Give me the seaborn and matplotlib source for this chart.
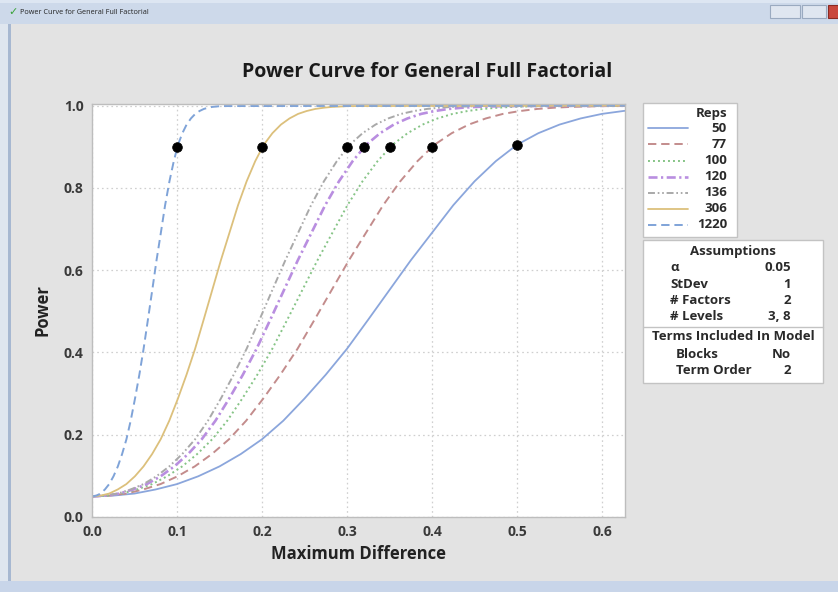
import matplotlib
matplotlib.use("Agg")
import matplotlib.pyplot as plt
import seaborn as sns
import pandas as pd
from matplotlib.patches import Rectangle
from matplotlib.lines import Line2D

# ---------------- data ----------------
reps = ["50", "77", "100", "120", "136", "306", "1220"]

# power levels at which each curve's Maximum Difference was read
power_levels = [0.050, 0.052, 0.057, 0.067, 0.080, 0.099, 0.123, 0.153, 0.189, 0.234,
                0.288, 0.346, 0.409, 0.480, 0.552, 0.624, 0.691, 0.758, 0.816, 0.865,
                0.905, 0.933, 0.954, 0.969, 0.980, 0.987, 0.992, 0.995, 0.997, 0.998,
                0.999, 1.000]

delta_50 = [0.0, 0.025, 0.05, 0.075, 0.1, 0.125, 0.15, 0.175, 0.2, 0.225, 0.25, 0.275,
            0.3, 0.325, 0.35, 0.375, 0.4, 0.425, 0.45, 0.475, 0.5, 0.525, 0.55, 0.575,
            0.6, 0.625, 0.65, 0.675, 0.7, 0.725, 0.75, 0.775]
delta_77 = [0.0, 0.0201, 0.0403, 0.0604, 0.0806, 0.1007, 0.1209, 0.1410, 0.1612, 0.1813,
            0.2015, 0.2216, 0.2418, 0.2619, 0.2820, 0.3022, 0.3223, 0.3425, 0.3626, 0.3828,
            0.4029, 0.4231, 0.4432, 0.4634, 0.4835, 0.5037, 0.5238, 0.5439, 0.5641, 0.5842,
            0.6044, 0.65]
delta_100 = [0.0, 0.0177, 0.0354, 0.0530, 0.0707, 0.0884, 0.1061, 0.1237, 0.1414, 0.1591,
             0.1768, 0.1945, 0.2121, 0.2298, 0.2475, 0.2652, 0.2828, 0.3005, 0.3182, 0.3359,
             0.3536, 0.3712, 0.3889, 0.4066, 0.4243, 0.4419, 0.4596, 0.4773, 0.4950, 0.5127,
             0.5303, 0.65]
delta_120 = [0.0, 0.0161, 0.0323, 0.0484, 0.0645, 0.0807, 0.0968, 0.1130, 0.1291, 0.1452,
             0.1614, 0.1775, 0.1936, 0.2098, 0.2259, 0.2421, 0.2582, 0.2743, 0.2905, 0.3066,
             0.3227, 0.3389, 0.3550, 0.3712, 0.3873, 0.4034, 0.4196, 0.4357, 0.4518, 0.4680,
             0.4841, 0.65]
delta_136 = [0.0, 0.0152, 0.0303, 0.0455, 0.0606, 0.0758, 0.0909, 0.1061, 0.1213, 0.1364,
             0.1516, 0.1667, 0.1819, 0.1971, 0.2122, 0.2274, 0.2425, 0.2577, 0.2728, 0.2880,
             0.3032, 0.3183, 0.3335, 0.3486, 0.3638, 0.3790, 0.3941, 0.4093, 0.4244, 0.4396,
             0.4547, 0.65]
delta_306 = [0.0, 0.0101, 0.0202, 0.0303, 0.0404, 0.0505, 0.0606, 0.0707, 0.0808, 0.0909,
             0.1011, 0.1112, 0.1213, 0.1314, 0.1415, 0.1516, 0.1617, 0.1718, 0.1819, 0.1920,
             0.2021, 0.2122, 0.2223, 0.2324, 0.2425, 0.2526, 0.2627, 0.2728, 0.2829, 0.2930,
             0.3032, 0.65]
delta_1220 = [0.0, 0.0051, 0.0101, 0.0152, 0.0202, 0.0253, 0.0304, 0.0354, 0.0405, 0.0455,
              0.0506, 0.0557, 0.0607, 0.0658, 0.0709, 0.0759, 0.0810, 0.0860, 0.0911, 0.0962,
              0.1012, 0.1063, 0.1113, 0.1164, 0.1215, 0.1265, 0.1316, 0.1367, 0.1417, 0.1468,
              0.1518, 0.65]

target_x = [0.10, 0.20, 0.30, 0.32, 0.35, 0.40, 0.50]
target_y = [0.90, 0.90, 0.90, 0.90, 0.90, 0.90, 0.905]

x_ticks = [0.0, 0.1, 0.2, 0.3, 0.4, 0.5, 0.6]
y_ticks = [0.0, 0.2, 0.4, 0.6, 0.8, 1.0]

assump_labels = ["\u03b1", "StDev", "# Factors", "# Levels"]
assump_values = ["0.05", "1", "2", "3, 8"]
terms_labels = ["Blocks", "Term Order"]
terms_values = ["No", "2"]

# ---------------- styles ----------------
colors = {"50": "#8ba6dc", "77": "#c38c8c", "100": "#86c486", "120": "#b98ee0",
          "136": "#a9a9a9", "306": "#dcc07c", "1220": "#7fa3d8"}
dash_map = {"50": "", "77": (6, 3.5), "100": (1.4, 2.2), "120": (6.5, 2.5, 1.6, 2.5),
            "136": (5, 2, 1.2, 2, 1.2, 2), "306": "", "1220": (6, 3.5)}
widths = {"50": 1.3, "77": 1.4, "100": 1.4, "120": 1.9, "136": 1.4, "306": 1.3, "1220": 1.4}

sns.set_style("white")
plt.rcParams["font.family"] = ["Open Sans", "DejaVu Sans"]
plt.rcParams["lines.scale_dashes"] = False

W, H = 838, 592
fig = plt.figure(figsize=(W / 100, H / 100), dpi=100)
fig.patch.set_facecolor("#e3e3e3")


def rect(x0, y0, x1, y1, **kw):
    r = Rectangle((x0 / W, 1 - y1 / H), (x1 - x0) / W, (y1 - y0) / H,
                  transform=fig.transFigure, **kw)
    fig.add_artist(r)
    return r


def txt(x, y, s, **kw):
    return fig.text(x / W, 1 - y / H, s, **kw)


# window chrome
rect(0, 0, W, 24, facecolor="#cdd9ea", edgecolor="none")
rect(0, 0, W, 3, facecolor="#dde6f2", edgecolor="none")
rect(0, 24, 8, H, facecolor="#dfe6ef", edgecolor="none")
rect(8, 24, 11, H, facecolor="#a7b8d1", edgecolor="none")
rect(0, 581, W, H, facecolor="#c8d5e9", edgecolor="none")
txt(8, 12, "\u2713", color="#3aa33a", fontsize=8, fontweight="bold", va="center",
    family=["DejaVu Sans"])
txt(20, 12, "Power Curve for General Full Factorial", fontsize=5.2, va="center", color="#222222")
rect(770, 5, 800, 18, facecolor="#dfe6f0", edgecolor="#9aaac0", linewidth=0.8)
rect(802, 5, 826, 18, facecolor="#dfe6f0", edgecolor="#9aaac0", linewidth=0.8)
rect(828, 5, 842, 18, facecolor="#c9473c", edgecolor="#8a2a22", linewidth=0.8)

# ---------------- main axes ----------------
ax = fig.add_axes([92 / W, 1 - 517 / H, (625 - 92) / W, (517 - 104) / H])
ax.set_facecolor("white")

deltas = [delta_50, delta_77, delta_100, delta_120, delta_136, delta_306, delta_1220]
frames = []
for r, d in zip(reps, deltas):
    frames.append(pd.DataFrame({"delta": d, "power": power_levels, "reps": r}))
df = pd.concat(frames, ignore_index=True)

sns.lineplot(data=df, x="delta", y="power", hue="reps", style="reps", hue_order=reps,
             style_order=reps, palette=colors, dashes=dash_map, sort=False,
             estimator=None, legend=False, ax=ax, linewidth=1.4)
for line, r in zip(ax.lines, reps):
    line.set_linewidth(widths[r])

sns.scatterplot(x=target_x, y=target_y, color="black", s=48, edgecolor="black",
                zorder=6, ax=ax, clip_on=False)

ax.set_xlim(0, 0.627)
ax.set_ylim(0, 1.004)
ax.set_xticks(x_ticks)
ax.set_yticks(y_ticks)
ax.set_xticklabels([f"{v:.1f}" for v in x_ticks])
ax.set_yticklabels([f"{v:.1f}" for v in y_ticks])
ax.grid(True, linestyle=(0, (1.2, 2.2)), color="#cfcfcf", linewidth=0.9)
for s in ax.spines.values():
    s.set_color("#bdbdbd")
    s.set_linewidth(1.0)
ax.tick_params(axis="both", which="both", direction="out", length=3, width=0.8,
               color="#bdbdbd", labelsize=10, labelcolor="#3a3a3a", pad=3)
for lab in ax.get_xticklabels() + ax.get_yticklabels():
    lab.set_fontweight("bold")
ax.set_xlabel("Maximum Difference", fontsize=12, fontweight="bold", color="#222222", labelpad=4)
ax.set_ylabel("Power", fontsize=12, fontweight="bold", color="#222222", labelpad=9)

txt(427, 72, "Power Curve for General Full Factorial", fontsize=14, fontweight="bold",
    ha="center", va="center", color="#1a1a1a")

# ---------------- legend: Reps ----------------
rect(643, 103, 737, 237, facecolor="white", edgecolor="#c3c3c3", linewidth=1)
txt(727, 113, "Reps", fontsize=9.5, fontweight="bold", ha="right", va="center", color="#2a2a2a")
row_y = [128, 144, 161, 177, 193, 209, 225]
for r, yy in zip(reps, row_y):
    ls = "-" if dash_map[r] == "" else (0, dash_map[r])
    fig.add_artist(Line2D([648 / W, 688 / W], [1 - yy / H] * 2, transform=fig.transFigure,
                          color=colors[r], linestyle=ls, linewidth=widths[r]))
    txt(727, yy, r, fontsize=9.5, fontweight="bold", ha="right", va="center", color="#2a2a2a")

# ---------------- Assumptions / Terms box ----------------
rect(643, 240, 823, 383, facecolor="white", edgecolor="#c3c3c3", linewidth=1)
fig.add_artist(Line2D([643 / W, 823 / W], [1 - 327 / H] * 2, transform=fig.transFigure,
                      color="#c3c3c3", linewidth=1))
txt(733, 251, "Assumptions", fontsize=9.5, fontweight="bold", ha="center", va="center", color="#2a2a2a")
for lab, val, yy in zip(assump_labels, assump_values, [268, 284, 300, 316]):
    txt(670, yy, lab, fontsize=9.5, fontweight="bold", ha="left", va="center", color="#2a2a2a")
    txt(791, yy, val, fontsize=9.5, fontweight="bold", ha="right", va="center", color="#2a2a2a")
txt(733, 336, "Terms Included In Model", fontsize=9.5, fontweight="bold", ha="center",
    va="center", color="#2a2a2a")
for lab, val, yy in zip(terms_labels, terms_values, [355, 371]):
    txt(676, yy, lab, fontsize=9.5, fontweight="bold", ha="left", va="center", color="#2a2a2a")
    txt(791, yy, val, fontsize=9.5, fontweight="bold", ha="right", va="center", color="#2a2a2a")

fig.savefig("out.png", dpi=100, facecolor=fig.get_facecolor())
